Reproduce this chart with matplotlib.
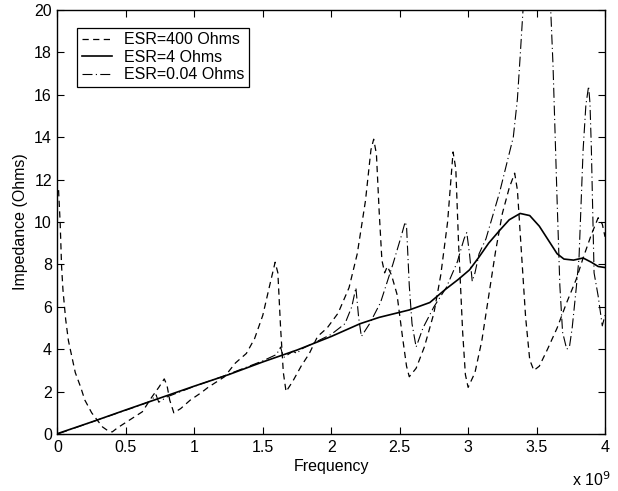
import matplotlib
matplotlib.use("Agg")
import matplotlib.pyplot as plt
import numpy as np

plt.rcParams['font.family'] = ['Liberation Sans', 'DejaVu Sans']

# frequency in units of 1e9 Hz, impedance in Ohms
f_400 = [0.008, 0.02, 0.03, 0.04, 0.06, 0.08, 0.1, 0.13, 0.17, 0.2, 0.25, 0.29, 0.33, 0.37, 0.4,
         0.44, 0.5, 0.56, 0.62, 0.69, 0.74, 0.78, 0.8, 0.82, 0.85, 0.9, 0.97, 1.05, 1.1, 1.22,
         1.3, 1.38, 1.44, 1.5, 1.55, 1.59, 1.61, 1.63, 1.65, 1.67, 1.72, 1.78, 1.84, 1.9, 1.97,
         2.05, 2.13, 2.19, 2.25, 2.29, 2.31, 2.33, 2.35, 2.37, 2.39, 2.41, 2.44, 2.48, 2.52,
         2.55, 2.57, 2.62, 2.68, 2.75, 2.8, 2.85, 2.89, 2.91, 2.93, 2.96, 2.98, 3.0, 3.05, 3.1,
         3.15, 3.2, 3.25, 3.3, 3.34, 3.36, 3.39, 3.42, 3.45, 3.48, 3.52, 3.58, 3.65, 3.72, 3.79,
         3.84, 3.9, 3.95, 3.98, 4.0]
z_400 = [11.5, 9.9, 7.9, 6.8, 5.4, 4.4, 3.8, 2.9, 2.2, 1.6, 1.0, 0.66, 0.33, 0.15, 0.1,
         0.3, 0.55, 0.8, 1.05, 1.75, 2.2, 2.6, 2.3, 1.6, 1.0, 1.2, 1.6, 1.95, 2.2, 2.7,
         3.35, 3.8, 4.5, 5.6, 7.0, 8.1, 7.6, 5.0, 2.9, 2.0, 2.5, 3.2, 3.8, 4.6, 5.0,
         5.7, 6.9, 8.5, 11.0, 13.4, 13.9, 13.2, 10.5, 8.2, 7.6, 7.9, 7.5, 6.6, 4.6,
         3.2, 2.7, 3.1, 4.1, 5.7, 7.5, 10.0, 13.3, 12.5, 9.0, 4.8, 2.8, 2.2, 2.9, 4.4,
         6.5, 8.6, 10.4, 11.6, 12.3, 11.5, 8.5, 5.5, 3.5, 3.0, 3.2, 4.0, 5.0, 6.2, 7.3,
         8.3, 9.4, 10.2, 9.9, 9.3]

f_4 = [0.0, 0.25, 0.5, 0.75, 1.0, 1.25, 1.5, 1.75, 2.0, 2.21, 2.35, 2.57, 2.72, 2.83, 2.93,
       3.01, 3.08, 3.15, 3.23, 3.3, 3.38, 3.45, 3.52, 3.6, 3.65, 3.7, 3.77, 3.84, 3.9, 3.95, 4.0]
z_4 = [0.02, 0.57, 1.14, 1.7, 2.26, 2.8, 3.4, 3.96, 4.6, 5.2, 5.5, 5.85, 6.2, 6.8, 7.3,
       7.74, 8.35, 9.0, 9.6, 10.1, 10.4, 10.3, 9.8, 9.0, 8.5, 8.25, 8.2, 8.3, 8.1, 7.9, 7.85]

f_004 = [0.0, 0.3, 0.6, 0.68, 0.72, 0.74, 0.8, 1.0, 1.2, 1.5, 1.6, 1.63, 1.65, 1.72, 1.75,
         1.78, 2.0, 2.1, 2.15, 2.18, 2.2, 2.22, 2.28, 2.36, 2.45, 2.51, 2.54, 2.55, 2.57,
         2.59, 2.62, 2.67, 2.75, 2.84, 2.92, 2.97, 2.99, 3.01, 3.03, 3.05, 3.08, 3.13, 3.23,
         3.33, 3.36, 3.38, 3.4, 3.46, 3.5, 3.56, 3.6, 3.62, 3.65, 3.67, 3.69, 3.72, 3.74,
         3.76, 3.79, 3.81, 3.84, 3.86, 3.88, 3.89, 3.9, 3.92, 3.95, 3.98, 4.0]
z_004 = [0.0, 0.68, 1.35, 1.55, 1.85, 1.5, 1.75, 2.25, 2.7, 3.45, 3.75, 4.1, 3.6, 3.9, 3.8,
         4.0, 4.7, 5.2, 6.0, 6.9, 5.5, 4.6, 5.2, 6.2, 8.0, 9.3, 10.0, 9.8, 7.0,
         5.2, 4.1, 5.0, 6.0, 6.9, 8.1, 9.2, 9.5, 8.5, 7.2, 7.6, 8.5, 9.2, 11.4,
         14.0, 15.8, 17.8, 19.9, 25.0, 30.0, 26.0, 20.5, 17.4, 11.0, 7.0, 4.8, 4.0, 4.1,
         5.0, 6.9, 8.3, 13.4, 15.5, 16.4, 15.6, 13.5, 7.6, 6.5, 5.1, 5.6]

labels = ['ESR=400 Ohms', 'ESR=4 Ohms', 'ESR=0.04 Ohms']

fig = plt.figure(figsize=(6.18, 4.91), dpi=100)
ax = fig.add_axes([0.093, 0.116, 0.886, 0.864])

ax.plot(f_400, z_400, color='black', lw=0.9, linestyle=(0, (5, 3.5)), label=labels[0])
ax.plot(f_4, z_4, color='black', lw=1.2, linestyle='-', label=labels[1])
ax.plot(f_004, z_004, color='black', lw=0.8, linestyle=(0, (9, 3, 1, 3)), label=labels[2])

ax.set_xlim(0, 4)
ax.set_ylim(0, 20)
ax.set_xticks(np.arange(0, 4.01, 0.5))
ax.set_xticklabels(['0', '0.5', '1', '1.5', '2', '2.5', '3', '3.5', '4'])
ax.set_yticks(np.arange(0, 21, 2))
ax.tick_params(direction='in', top=True, right=True, length=5, width=0.8, labelsize=11.5, pad=4)
for s in ax.spines.values():
    s.set_linewidth(1.0)

ax.set_xlabel('Frequency', fontsize=11.5, labelpad=3)
ax.set_ylabel('Impedance (Ohms)', fontsize=11.5, labelpad=4)
ax.text(1.01, -0.085, 'x 10$^9$', transform=ax.transAxes, ha='right', va='top', fontsize=11.5)

leg = ax.legend(loc='upper left', bbox_to_anchor=(0.036, 0.958), borderaxespad=0,
                fancybox=False, edgecolor='black', framealpha=1, fontsize=11.5,
                handlelength=1.9, labelspacing=0.15, borderpad=0.3, handletextpad=0.7)
leg.get_frame().set_linewidth(0.9)

fig.savefig('out.png', dpi=100)
